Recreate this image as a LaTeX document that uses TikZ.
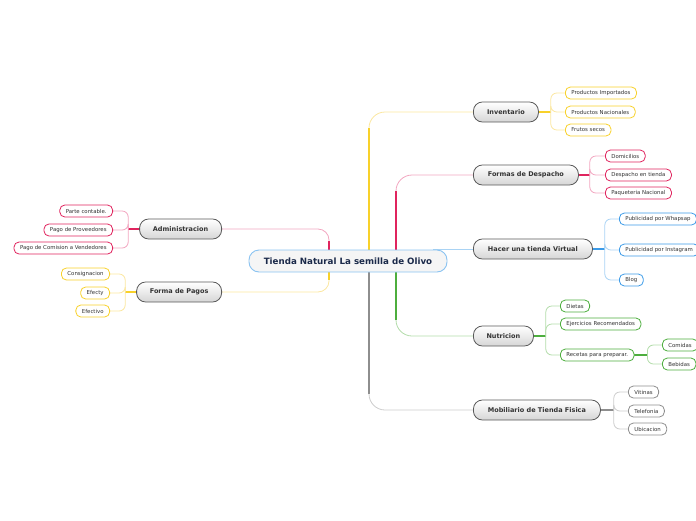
\documentclass[tikz,border=0pt]{standalone}
\usepackage{fontspec}
\setmainfont{DejaVu Sans}
\usetikzlibrary{positioning, calc, backgrounds}

\definecolor{ylw}{HTML}{F8D12A}\definecolor{ylwL}{HTML}{FBE7A0}
\definecolor{crm}{HTML}{E0245E}\definecolor{crmL}{HTML}{F2A6C0}
\definecolor{blu}{HTML}{3C9BE8}\definecolor{bluL}{HTML}{A9D3F4}
\definecolor{grn}{HTML}{4DAE3E}\definecolor{grnL}{HTML}{B2DCA9}
\definecolor{gry}{HTML}{8E8E8E}\definecolor{gryL}{HTML}{CCCCCC}
\definecolor{navy}{HTML}{1B2A4A}

\begin{document}
\begin{tikzpicture}[
		x=1pt, y=-1pt,
		% Central topic
		rootbox/.style={draw=blu!60, fill=red!2!black!4, line width=0.9pt, rounded corners=10pt, minimum height=22pt, minimum width=198pt, inner xsep=4pt, inner ysep=0pt, font=\fontsize{8.7}{10}\selectfont\bfseries, text=navy},
		% Main topics
		topic/.style={draw=black!65, top color=white, bottom color=black!16, line width=0.8pt, rounded corners=9pt, minimum height=20pt, minimum width=#1, inner xsep=4pt, inner ysep=0pt, font=\fontsize{6.5}{8}\selectfont\bfseries, text=black!80},
		% Subtopics
		leaf/.style={draw=#1, fill=white, line width=0.8pt, rounded corners=5pt, minimum height=12pt, inner xsep=6pt, inner ysep=0pt, font=\fontsize{5.4}{6}\selectfont, text=black!80},
		% Connectors
		spoke/.style={draw=#1, line width=1.8pt},
		twig/.style={draw=#1, line width=0.8pt, rounded corners=6pt}
		]
		\useasboundingbox (0,0) rectangle (696,520);
		
		% --- CENTRAL TOPIC ---
		\node[rootbox] (root) at (348,261) {Tienda Natural La semilla de Olivo};
		
		% --- RIGHT SIDE TOPICS ---
		\node[topic=65pt, anchor=west] (inv) at (473,112) {Inventario};
		\node[topic=105pt, anchor=west] (desp) at (473,175) {Formas de Despacho};
		\node[topic=119pt, anchor=west] (virt) at (473,249) {Hacer una tienda Virtual};
		\node[topic=60pt, anchor=west] (nutr) at (473,336) {Nutricion};
		\node[topic=127pt, anchor=west] (mobi) at (473,410) {Mobiliario de Tienda Fisica};
		
		% --- LEFT SIDE TOPICS ---
		\node[topic=82pt, anchor=east] (admin) at (222,229) {Administracion};
		\node[topic=85pt, anchor=east] (pagos) at (222,292) {Forma de Pagos};
		
		% --- SUBTOPICS ---
		% Inventario
		\node[leaf=ylw, anchor=west] (inv1) at (565,93) {Productos Importados};
		\node[leaf=ylw, anchor=west] (inv2) at (565,112) {Productos Nacionales};
		\node[leaf=ylw, anchor=west] (inv3) at (565,130) {Frutos secos};
		
		% Formas de Despacho
		\node[leaf=crm, anchor=west] (desp1) at (605,156) {Domicilios};
		\node[leaf=crm, anchor=west] (desp2) at (605,175) {Despacho en tienda};
		\node[leaf=crm, anchor=west] (desp3) at (605,193) {Paqueteria Nacional};
		
		% Hacer una tienda Virtual
		\node[leaf=blu, anchor=west] (virt1) at (619,219) {Publicidad por Whapsap};
		\node[leaf=blu, anchor=west] (virt2) at (619,250) {Publicidad por Instagram};
		\node[leaf=blu, anchor=west] (virt3) at (619,280) {Blog};
		
		% Nutricion
		\node[leaf=grn, anchor=west] (nutr1) at (560,306) {Dietas};
		\node[leaf=grn, anchor=west] (nutr2) at (560,324) {Ejercicios Recomendados};
		\node[leaf=grn, anchor=west] (nutr3) at (560,355) {Recetas para preparar.};
		\node[leaf=grn, anchor=west] (rec1) at (662,345) {Comidas};
		\node[leaf=grn, anchor=west] (rec2) at (662,364) {Bebidas};
		
		% Mobiliario
		\node[leaf=gry, anchor=west] (mobi1) at (628,392) {Vitinas};
		\node[leaf=gry, anchor=west] (mobi2) at (628,411) {Telefonia};
		\node[leaf=gry, anchor=west] (mobi3) at (628,429) {Ubicacion};
		
		% Administracion
		\node[leaf=crm, anchor=east] (admin1) at (113,211) {Parte contable.};
		\node[leaf=crm, anchor=east] (admin2) at (113,230) {Pago de Proveedores};
		\node[leaf=crm, anchor=east] (admin3) at (113,248) {Pago de Comision a Vendedores};
		
		% Forma de Pagos
		\node[leaf=ylw, anchor=east] (pagos1) at (110,274) {Consignacion};
		\node[leaf=ylw, anchor=east] (pagos2) at (110,293) {Efecty};
		\node[leaf=ylw, anchor=east] (pagos3) at (110,311) {Efectivo};
		
		% --- CONNECTORS ---
		\begin{scope}[on background layer]
			% Bends of the main branches
			\coordinate (invA) at (369,128);
			\coordinate (despA) at (396,191);
			\coordinate (nutrA) at (396,320);
			\coordinate (mobiA) at (369,394);
			\coordinate (adminA) at (329,241);
			\coordinate (pagosA) at (329,280);
			
			\draw[spoke=ylw] (root.north -| invA) -- (invA);
			\draw[twig=ylwL, rounded corners=16pt] (invA) |- (inv.west);
			\draw[spoke=crm] (root.north -| despA) -- (despA);
			\draw[twig=crmL, rounded corners=16pt] (despA) |- (desp.west);
			\draw[twig=bluL] (virt.west) -- ++(-40,0);
			\draw[spoke=grn] (root.south -| nutrA) -- (nutrA);
			\draw[twig=grnL, rounded corners=16pt] (nutrA) |- (nutr.west);
			\draw[spoke=gry] (root.south -| mobiA) -- (mobiA);
			\draw[twig=gryL, rounded corners=16pt] (mobiA) |- (mobi.west);
			\draw[spoke=crm] (root.north -| adminA) -- (adminA);
			\draw[twig=crmL, rounded corners=11pt] (adminA) |- (admin.east);
			\draw[spoke=ylw] (root.south -| pagosA) -- (pagosA);
			\draw[twig=ylwL, rounded corners=11pt] (pagosA) |- (pagos.east);
			
			% Subtopic branches
			\draw[spoke=ylw, line width=1.4pt] (inv.east) -- ++(12,0) coordinate (invS);
			\foreach \n in {inv1, inv2, inv3} \draw[twig=ylwL] (invS) |- (\n.west);
			
			\draw[spoke=crm, line width=1.4pt] (desp.east) -- ++(11,0) coordinate (despS);
			\foreach \n in {desp1, desp2, desp3} \draw[twig=crmL] (despS) |- (\n.west);
			
			\draw[spoke=blu, line width=1.4pt] (virt.east) -- ++(12,0) coordinate (virtS);
			\foreach \n in {virt1, virt2, virt3} \draw[twig=bluL] (virtS) |- (\n.west);
			
			\draw[spoke=grn, line width=1.4pt] (nutr.east) -- ++(12,0) coordinate (nutrS);
			\foreach \n in {nutr1, nutr2, nutr3} \draw[twig=grnL] (nutrS) |- (\n.west);
			
			\draw[spoke=grn, line width=1.4pt] (nutr3.east) -- ++(13,0) coordinate (recS);
			\foreach \n in {rec1, rec2} \draw[twig=grnL] (recS) |- (\n.west);
			
			\draw[spoke=gry, line width=1.4pt] (mobi.east) -- ++(13,0) coordinate (mobiS);
			\foreach \n in {mobi1, mobi2, mobi3} \draw[twig=gryL] (mobiS) |- (\n.west);
			
			\draw[spoke=crm, line width=1.4pt] (admin.west) -- ++(-11,0) coordinate (adminS);
			\foreach \n in {admin1, admin2, admin3} \draw[twig=crmL] (adminS) |- (\n.east);
			
			\draw[spoke=ylw, line width=1.4pt] (pagos.west) -- ++(-11,0) coordinate (pagosS);
			\foreach \n in {pagos1, pagos2, pagos3} \draw[twig=ylwL] (pagosS) |- (\n.east);
		\end{scope}
		
	\end{tikzpicture}
\end{document}
